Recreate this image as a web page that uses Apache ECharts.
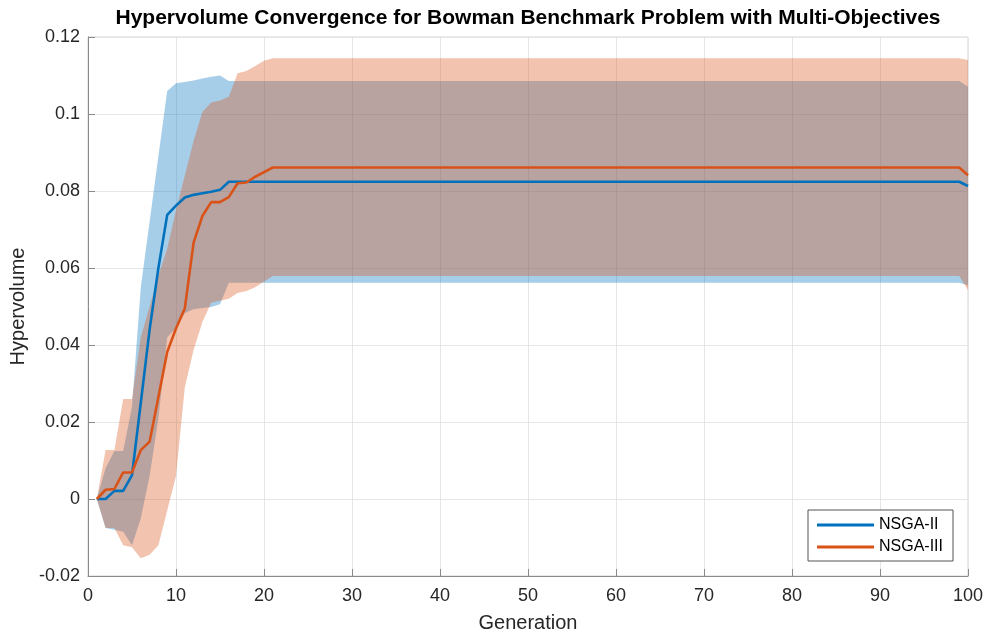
<!DOCTYPE html>
<html>
<head>
<meta charset="utf-8">
<title>Hypervolume Convergence</title>
<script src="https://cdn.jsdelivr.net/npm/echarts@6/dist/echarts.min.js"></script>
<style>
  html, body { margin: 0; padding: 0; background: #ffffff; }
  #chart { width: 984px; height: 630px; }
</style>
</head>
<body>
<div id="chart"></div>
<script>
// Generation index (x axis)
const generations = Array.from({ length: 100 }, (_, i) => i + 1);

// NSGA-II: mean hypervolume and band limits per generation
const nsga2Mean = [
  0, 0, 0.0021, 0.0021, 0.0062, 0.025, 0.044, 0.060, 0.0738, 0.0762,
  0.0783, 0.0790, 0.0794, 0.0798, 0.0803, 0.0824, 0.0824, 0.0824, 0.0824, 0.0824,
  0.0824, 0.0824, 0.0824, 0.0824, 0.0824, 0.0824, 0.0824, 0.0824, 0.0824, 0.0824,
  0.0824, 0.0824, 0.0824, 0.0824, 0.0824, 0.0824, 0.0824, 0.0824, 0.0824, 0.0824,
  0.0824, 0.0824, 0.0824, 0.0824, 0.0824, 0.0824, 0.0824, 0.0824, 0.0824, 0.0824,
  0.0824, 0.0824, 0.0824, 0.0824, 0.0824, 0.0824, 0.0824, 0.0824, 0.0824, 0.0824,
  0.0824, 0.0824, 0.0824, 0.0824, 0.0824, 0.0824, 0.0824, 0.0824, 0.0824, 0.0824,
  0.0824, 0.0824, 0.0824, 0.0824, 0.0824, 0.0824, 0.0824, 0.0824, 0.0824, 0.0824,
  0.0824, 0.0824, 0.0824, 0.0824, 0.0824, 0.0824, 0.0824, 0.0824, 0.0824, 0.0824,
  0.0824, 0.0824, 0.0824, 0.0824, 0.0824, 0.0824, 0.0824, 0.0824, 0.0824, 0.0813
];
const nsga2Upper = [
  0, 0.008, 0.0125, 0.0125, 0.024, 0.055, 0.072, 0.089, 0.106, 0.108,
  0.1083, 0.1087, 0.1092, 0.1097, 0.1100, 0.1086, 0.1086, 0.1086, 0.1086, 0.1086,
  0.1086, 0.1086, 0.1086, 0.1086, 0.1086, 0.1086, 0.1086, 0.1086, 0.1086, 0.1086,
  0.1086, 0.1086, 0.1086, 0.1086, 0.1086, 0.1086, 0.1086, 0.1086, 0.1086, 0.1086,
  0.1086, 0.1086, 0.1086, 0.1086, 0.1086, 0.1086, 0.1086, 0.1086, 0.1086, 0.1086,
  0.1086, 0.1086, 0.1086, 0.1086, 0.1086, 0.1086, 0.1086, 0.1086, 0.1086, 0.1086,
  0.1086, 0.1086, 0.1086, 0.1086, 0.1086, 0.1086, 0.1086, 0.1086, 0.1086, 0.1086,
  0.1086, 0.1086, 0.1086, 0.1086, 0.1086, 0.1086, 0.1086, 0.1086, 0.1086, 0.1086,
  0.1086, 0.1086, 0.1086, 0.1086, 0.1086, 0.1086, 0.1086, 0.1086, 0.1086, 0.1086,
  0.1086, 0.1086, 0.1086, 0.1086, 0.1086, 0.1086, 0.1086, 0.1086, 0.1086, 0.1071
];
const nsga2Lower = [
  0, -0.0075, -0.008, -0.0085, -0.012, -0.005, 0.006, 0.021, 0.042, 0.0444,
  0.0483, 0.0493, 0.0496, 0.0499, 0.0506, 0.0562, 0.0562, 0.0562, 0.0562, 0.0562,
  0.0562, 0.0562, 0.0562, 0.0562, 0.0562, 0.0562, 0.0562, 0.0562, 0.0562, 0.0562,
  0.0562, 0.0562, 0.0562, 0.0562, 0.0562, 0.0562, 0.0562, 0.0562, 0.0562, 0.0562,
  0.0562, 0.0562, 0.0562, 0.0562, 0.0562, 0.0562, 0.0562, 0.0562, 0.0562, 0.0562,
  0.0562, 0.0562, 0.0562, 0.0562, 0.0562, 0.0562, 0.0562, 0.0562, 0.0562, 0.0562,
  0.0562, 0.0562, 0.0562, 0.0562, 0.0562, 0.0562, 0.0562, 0.0562, 0.0562, 0.0562,
  0.0562, 0.0562, 0.0562, 0.0562, 0.0562, 0.0562, 0.0562, 0.0562, 0.0562, 0.0562,
  0.0562, 0.0562, 0.0562, 0.0562, 0.0562, 0.0562, 0.0562, 0.0562, 0.0562, 0.0562,
  0.0562, 0.0562, 0.0562, 0.0562, 0.0562, 0.0562, 0.0562, 0.0562, 0.0562, 0.0555
];

// NSGA-III: mean hypervolume and band limits per generation
const nsga3Mean = [
  0, 0.0024, 0.0026, 0.0069, 0.0069, 0.0127, 0.0149, 0.0265, 0.0382, 0.0443,
  0.0495, 0.0666, 0.0735, 0.0771, 0.0771, 0.0784, 0.0820, 0.0822, 0.0837, 0.0849,
  0.0861, 0.0861, 0.0861, 0.0861, 0.0861, 0.0861, 0.0861, 0.0861, 0.0861, 0.0861,
  0.0861, 0.0861, 0.0861, 0.0861, 0.0861, 0.0861, 0.0861, 0.0861, 0.0861, 0.0861,
  0.0861, 0.0861, 0.0861, 0.0861, 0.0861, 0.0861, 0.0861, 0.0861, 0.0861, 0.0861,
  0.0861, 0.0861, 0.0861, 0.0861, 0.0861, 0.0861, 0.0861, 0.0861, 0.0861, 0.0861,
  0.0861, 0.0861, 0.0861, 0.0861, 0.0861, 0.0861, 0.0861, 0.0861, 0.0861, 0.0861,
  0.0861, 0.0861, 0.0861, 0.0861, 0.0861, 0.0861, 0.0861, 0.0861, 0.0861, 0.0861,
  0.0861, 0.0861, 0.0861, 0.0861, 0.0861, 0.0861, 0.0861, 0.0861, 0.0861, 0.0861,
  0.0861, 0.0861, 0.0861, 0.0861, 0.0861, 0.0861, 0.0861, 0.0861, 0.0861, 0.0841
];
const nsga3Upper = [
  0, 0.0127, 0.0127, 0.026, 0.026, 0.042, 0.050, 0.058, 0.065, 0.075,
  0.084, 0.093, 0.1005, 0.1030, 0.1035, 0.1045, 0.1106, 0.1112, 0.1125, 0.1138,
  0.1145, 0.1145, 0.1145, 0.1145, 0.1145, 0.1145, 0.1145, 0.1145, 0.1145, 0.1145,
  0.1145, 0.1145, 0.1145, 0.1145, 0.1145, 0.1145, 0.1145, 0.1145, 0.1145, 0.1145,
  0.1145, 0.1145, 0.1145, 0.1145, 0.1145, 0.1145, 0.1145, 0.1145, 0.1145, 0.1145,
  0.1145, 0.1145, 0.1145, 0.1145, 0.1145, 0.1145, 0.1145, 0.1145, 0.1145, 0.1145,
  0.1145, 0.1145, 0.1145, 0.1145, 0.1145, 0.1145, 0.1145, 0.1145, 0.1145, 0.1145,
  0.1145, 0.1145, 0.1145, 0.1145, 0.1145, 0.1145, 0.1145, 0.1145, 0.1145, 0.1145,
  0.1145, 0.1145, 0.1145, 0.1145, 0.1145, 0.1145, 0.1145, 0.1145, 0.1145, 0.1145,
  0.1145, 0.1145, 0.1145, 0.1145, 0.1145, 0.1145, 0.1145, 0.1145, 0.1145, 0.1140
];
const nsga3Lower = [
  0, -0.0075, -0.0075, -0.012, -0.0125, -0.0154, -0.0145, -0.012, -0.003, 0.006,
  0.029, 0.0387, 0.046, 0.051, 0.0515, 0.052, 0.0535, 0.054, 0.055, 0.0565,
  0.0579, 0.0579, 0.0579, 0.0579, 0.0579, 0.0579, 0.0579, 0.0579, 0.0579, 0.0579,
  0.0579, 0.0579, 0.0579, 0.0579, 0.0579, 0.0579, 0.0579, 0.0579, 0.0579, 0.0579,
  0.0579, 0.0579, 0.0579, 0.0579, 0.0579, 0.0579, 0.0579, 0.0579, 0.0579, 0.0579,
  0.0579, 0.0579, 0.0579, 0.0579, 0.0579, 0.0579, 0.0579, 0.0579, 0.0579, 0.0579,
  0.0579, 0.0579, 0.0579, 0.0579, 0.0579, 0.0579, 0.0579, 0.0579, 0.0579, 0.0579,
  0.0579, 0.0579, 0.0579, 0.0579, 0.0579, 0.0579, 0.0579, 0.0579, 0.0579, 0.0579,
  0.0579, 0.0579, 0.0579, 0.0579, 0.0579, 0.0579, 0.0579, 0.0579, 0.0579, 0.0579,
  0.0579, 0.0579, 0.0579, 0.0579, 0.0579, 0.0579, 0.0579, 0.0579, 0.0579, 0.0543
];

// Axis ticks and their labels
const xTickLabels = ['0', '10', '20', '30', '40', '50', '60', '70', '80', '90', '100'];
const yTickLabels = ['-0.02', '0', '0.02', '0.04', '0.06', '0.08', '0.1', '0.12'];
const seriesNames = ['NSGA-II', 'NSGA-III'];

const X_MIN = 0, X_MAX = 100, X_STEP = 10;
const Y_MIN = -0.02, Y_MAX = 0.12, Y_STEP = 0.02;

const FONT = '"Liberation Sans", Arial, Helvetica, sans-serif';
const BLUE = '#0072BD';
const ORANGE = '#D95319';
const BLUE_FILL = 'rgba(0, 114, 189, 0.35)';
const ORANGE_FILL = 'rgba(217, 83, 25, 0.35)';

const pairs = (values) => generations.map((g, i) => [g, values[i]]);

// Shaded band between lower and upper limits, drawn as one polygon
// whose vertices are mapped through the grid's own axes.
function bandSeries(lower, upper, fill) {
  return {
    type: 'custom',
    silent: true,
    data: generations.map((g, i) => [g, lower[i], upper[i]]),
    encode: { x: 0, y: [1, 2] },
    renderItem: function (params, api) {
      if (params.dataIndex !== 0) return null;
      const pts = [];
      for (let i = 0; i < generations.length; i++) pts.push(api.coord([generations[i], upper[i]]));
      for (let i = generations.length - 1; i >= 0; i--) pts.push(api.coord([generations[i], lower[i]]));
      return {
        type: 'polygon',
        shape: { points: pts },
        style: { fill: fill, stroke: 'none' }
      };
    }
  };
}

function meanSeries(name, values, color) {
  return {
    name: name, type: 'line', data: pairs(values), symbol: 'none',
    lineStyle: { color: color, width: 2.6 }, itemStyle: { color: color }
  };
}

const chart = echarts.init(document.getElementById('chart'), null, { renderer: 'canvas' });

chart.setOption({
  animation: false,
  backgroundColor: '#ffffff',
  title: {
    text: 'Hypervolume Convergence for Bowman Benchmark Problem with Multi-Objectives',
    left: 528, top: 8, padding: 0, textAlign: 'center',
    textStyle: { fontFamily: FONT, fontSize: 21, fontWeight: 'bold', color: '#000000' }
  },
  legend: {
    data: seriesNames,
    orient: 'vertical',
    left: 808, top: 510,
    padding: [6, 10, 5, 9],
    itemGap: 4,
    itemWidth: 57, itemHeight: 3,
    icon: 'rect',
    backgroundColor: '#ffffff',
    borderColor: '#555555', borderWidth: 1,
    textStyle: { fontFamily: FONT, fontSize: 16, color: '#000000', lineHeight: 18 }
  },
  grid: {
    left: 88, right: 16, top: 37, bottom: 54,
    containLabel: false, outerBoundsMode: 'none',
    show: true, borderColor: '#d4d4d4', borderWidth: 1
  },
  xAxis: {
    type: 'value', min: X_MIN, max: X_MAX, interval: X_STEP,
    name: 'Generation', nameLocation: 'middle', nameGap: 37,
    nameTextStyle: { fontFamily: FONT, fontSize: 20, color: '#262626' },
    axisLine: { show: true, onZero: false, lineStyle: { color: '#8a8a8a', width: 1 } },
    axisTick: { show: true, inside: true, length: 7, lineStyle: { color: '#8a8a8a' } },
    axisLabel: {
      fontFamily: FONT, fontSize: 18, color: '#262626', margin: 11,
      formatter: (v) => xTickLabels[Math.round((v - X_MIN) / X_STEP)]
    },
    splitLine: { show: true, lineStyle: { color: '#e6e6e6', width: 1 } }
  },
  yAxis: {
    type: 'value', min: Y_MIN, max: Y_MAX, interval: Y_STEP,
    name: 'Hypervolume', nameLocation: 'middle', nameGap: 55,
    nameTextStyle: { fontFamily: FONT, fontSize: 20, color: '#262626' },
    axisLine: { show: true, onZero: false, lineStyle: { color: '#8a8a8a', width: 1 } },
    axisTick: { show: true, inside: true, length: 7, lineStyle: { color: '#8a8a8a' } },
    axisLabel: {
      fontFamily: FONT, fontSize: 18, color: '#262626', margin: 8,
      formatter: (v) => yTickLabels[Math.round((v - Y_MIN) / Y_STEP)]
    },
    splitLine: { show: true, lineStyle: { color: '#e6e6e6', width: 1 } }
  },
  series: [
    bandSeries(nsga2Lower, nsga2Upper, BLUE_FILL),
    meanSeries(seriesNames[0], nsga2Mean, BLUE),
    bandSeries(nsga3Lower, nsga3Upper, ORANGE_FILL),
    meanSeries(seriesNames[1], nsga3Mean, ORANGE)
  ]
});
</script>
</body>
</html>
